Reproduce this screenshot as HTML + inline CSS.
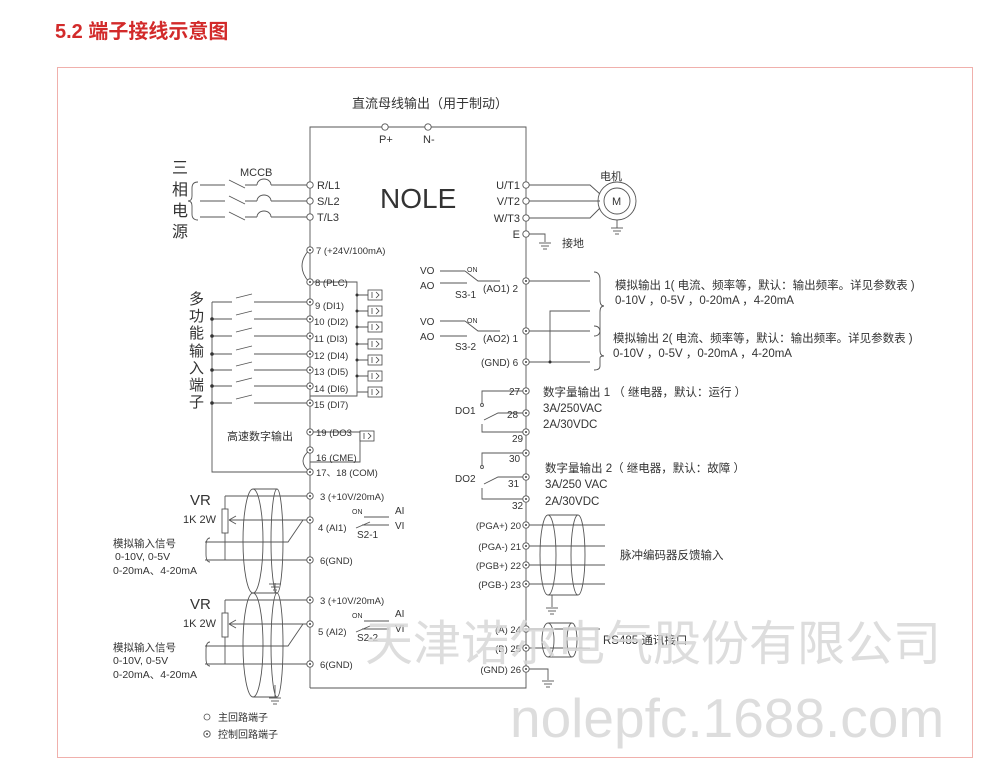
<!DOCTYPE html>
<html><head><meta charset="utf-8"><style>
html,body{margin:0;padding:0;background:#fff;}
svg{display:block;}
text{font-family:"Liberation Sans","Noto Sans CJK SC",sans-serif;fill:#333;}
</style></head><body>
<svg width="1000" height="782" viewBox="0 0 1000 782" xmlns="http://www.w3.org/2000/svg">
<defs>
<g id="ct"><circle r="3.2" fill="#fff" stroke="#555" stroke-width="0.9"/><circle r="1" fill="#444"/></g>
<g id="mt"><circle r="3.2" fill="#fff" stroke="#555" stroke-width="0.9"/></g>
<g id="oc"><rect x="0" y="-5" width="14" height="10" fill="#fff" stroke="#444" stroke-width="0.8"/><line x1="4" y1="-3" x2="4" y2="3" stroke="#444" stroke-width="0.8"/><path d="M8 -3 L11 0 L8 3" fill="none" stroke="#444" stroke-width="0.8"/></g>
<g id="gnd" stroke="#555" stroke-width="0.9"><line x1="-6" y1="0" x2="6" y2="0"/><line x1="-4" y1="3" x2="4" y2="3"/><line x1="-2" y1="6" x2="2" y2="6"/></g>
</defs>
<text x="55" y="38" font-size="20" font-weight="bold" style="fill:#d22a2a">5.2 端子接线示意图</text>
<rect x="57.5" y="67.5" width="915" height="690" fill="none" stroke="#f0b0ac" stroke-width="1"/>

<g stroke="#555" stroke-width="0.9" fill="none">
<polyline points="310,688 310,127 526,127 526,688 310,688"/>
<path d="M200 185H225 M229 180 L245 188 M245 185H257 M257 185 A7 6 0 0 1 271 185 M271 185H310"/>
<path d="M200 201H225 M229 196 L245 204 M245 201H257 M257 201 A7 6 0 0 1 271 201 M271 201H310"/>
<path d="M200 217H225 M229 212 L245 220 M245 217H257 M257 217 A7 6 0 0 1 271 217 M271 217H310"/>
<path d="M198 182 Q192 182 192 188 V196 Q192 201 188 201 Q192 201 192 206 V214 Q192 220 198 220"/>
<path d="M309 250 Q295 266 309 282"/>
<path d="M212 302V472H310"/>
<path d="M212 302H232 M236 298 L252 294 M254 302H310"/>
<path d="M212 319H232 M236 315 L252 311 M254 319H310"/>
<path d="M212 336H232 M236 332 L252 328 M254 336H310"/>
<path d="M212 354H232 M236 350 L252 346 M254 354H310"/>
<path d="M212 370H232 M236 366 L252 362 M254 370H310"/>
<path d="M212 386H232 M236 382 L252 378 M254 386H310"/>
<path d="M212 403H232 M236 399 L252 395 M254 403H310"/>
<path d="M310 282H357V396H310"/>
<path d="M357 295H368 M357 311H368 M357 327H368 M357 344H368 M357 360H368 M357 376H368 M357 392H368"/>
<path d="M310 432H360V462H310 M310 432"/>
<path d="M310 450 Q296 461 310 472"/>
<path d="M225 496H310 M225 496V509 M225 533V560 M229 520H310 M205 542H288 L303 520 M205 560H310"/>
<path d="M229 520 l7 -4 M229 520 l7 4"/>
<ellipse cx="253" cy="541" rx="10" ry="52"/><path d="M253 489H277 M253 593H277"/><ellipse cx="277" cy="541" rx="6" ry="52"/>
<path d="M275 593V583"/>
<path d="M370 522 L356 528 M364 517H389 M362 525H389 M210 538 Q206 538 206 546 V554 Q206 562 210 562"/>
<path d="M225 600H310 M225 600V613 M225 637V664 M229 624H310 M205 646H288 L303 624 M205 664H310"/>
<path d="M229 624 l7 -4 M229 624 l7 4"/>
<ellipse cx="253" cy="645" rx="10" ry="52"/><path d="M253 593H277 M253 697H277"/><ellipse cx="277" cy="645" rx="6" ry="52"/>
<path d="M275 697V685"/>
<path d="M370 626 L356 632 M364 621H389 M362 629H389 M210 642 Q206 642 206 650 V658 Q206 666 210 666"/>
<path d="M526 185H590 L600 194 M526 201H600 M526 218H590 L600 208 M526 234H545V242"/>
<circle cx="617" cy="201" r="19"/><circle cx="617" cy="201" r="13"/>
<path d="M617 220V228"/>
<path d="M440 271H465 M440 283H467 M465 271 L478 281 L500 281 M440 321H465 M440 336H467 M465 321 L478 331 L500 331"/>
<path d="M526 281H590 M526 331H590 M526 362H590 M550 362V311H590"/>
<path d="M594 272 Q600 272 600 280 V300 Q600 306 604 306 Q600 306 600 312 V330 Q600 336 594 336"/>
<path d="M594 326 Q600 326 600 332 V350 Q600 356 604 356 Q600 356 600 358 V366 Q600 370 594 370"/>
<path d="M526 391H482V403 M526 413H498 L484 420 M482 424V432H526 M526 413 H506"/>
<circle cx="482" cy="405" r="1.5"/>
<path d="M526 453H482V465 M526 477H498 L484 484 M482 488V499H526"/>
<circle cx="482" cy="467" r="1.5"/>
<path d="M526 525H605 M526 546H605 M526 565H605 M526 584H605"/>
<ellipse cx="548" cy="555" rx="8" ry="40"/><path d="M548 515H578 M548 595H578"/><ellipse cx="578" cy="555" rx="7" ry="40"/>
<path d="M552 595V607"/>
<path d="M526 629H600 M526 648H590 M526 669H548V680"/>
<ellipse cx="548" cy="640" rx="6" ry="17"/><path d="M548 623H572 M548 657H572"/><ellipse cx="572" cy="640" rx="5" ry="17"/>
</g>
<g fill="#333">
<circle cx="212" cy="319" r="1.8"/><circle cx="212" cy="336" r="1.8"/><circle cx="212" cy="354" r="1.8"/><circle cx="212" cy="370" r="1.8"/><circle cx="212" cy="386" r="1.8"/><circle cx="212" cy="403" r="1.8"/>
<circle cx="357" cy="295" r="1.5"/><circle cx="357" cy="311" r="1.5"/><circle cx="357" cy="327" r="1.5"/><circle cx="357" cy="344" r="1.5"/><circle cx="357" cy="360" r="1.5"/><circle cx="357" cy="376" r="1.5"/>
<circle cx="550" cy="362" r="1.5"/>
</g>
<rect x="222" y="509" width="6" height="24" fill="#fff" stroke="#555" stroke-width="0.9"/>
<rect x="222" y="613" width="6" height="24" fill="#fff" stroke="#555" stroke-width="0.9"/>
<use href="#gnd" x="275" y="584"/><use href="#gnd" x="275" y="698"/>
<use href="#gnd" x="545" y="243"/><use href="#gnd" x="617" y="228"/>
<use href="#gnd" x="552" y="608"/><use href="#gnd" x="548" y="681"/>
<use href="#oc" x="368" y="295"/><use href="#oc" x="368" y="311"/><use href="#oc" x="368" y="327"/><use href="#oc" x="368" y="344"/><use href="#oc" x="368" y="360"/><use href="#oc" x="368" y="376"/><use href="#oc" x="368" y="392"/>
<use href="#oc" x="360" y="436"/>
<use href="#mt" x="385" y="127"/><use href="#mt" x="428" y="127"/>
<use href="#mt" x="310" y="185"/><use href="#mt" x="310" y="201"/><use href="#mt" x="310" y="217"/>
<use href="#mt" x="526" y="185"/><use href="#mt" x="526" y="201"/><use href="#mt" x="526" y="218"/><use href="#mt" x="526" y="234"/>
<use href="#ct" x="310" y="250"/><use href="#ct" x="310" y="282"/><use href="#ct" x="310" y="302"/><use href="#ct" x="310" y="319"/><use href="#ct" x="310" y="336"/><use href="#ct" x="310" y="354"/><use href="#ct" x="310" y="370"/><use href="#ct" x="310" y="386"/><use href="#ct" x="310" y="403"/>
<use href="#ct" x="310" y="432"/><use href="#ct" x="310" y="450"/><use href="#ct" x="310" y="472"/>
<use href="#ct" x="310" y="496"/><use href="#ct" x="310" y="520"/><use href="#ct" x="310" y="560"/><use href="#ct" x="310" y="600"/><use href="#ct" x="310" y="624"/><use href="#ct" x="310" y="664"/>
<use href="#ct" x="526" y="281"/><use href="#ct" x="526" y="331"/><use href="#ct" x="526" y="362"/>
<use href="#ct" x="526" y="391"/><use href="#ct" x="526" y="413"/><use href="#ct" x="526" y="432"/><use href="#ct" x="526" y="453"/><use href="#ct" x="526" y="477"/><use href="#ct" x="526" y="499"/>
<use href="#ct" x="526" y="525"/><use href="#ct" x="526" y="546"/><use href="#ct" x="526" y="565"/><use href="#ct" x="526" y="584"/>
<use href="#ct" x="526" y="629"/><use href="#ct" x="526" y="648"/><use href="#ct" x="526" y="669"/>

<text x="352" y="108" font-size="13">直流母线输出（用于制动）</text>
<text x="379" y="143" font-size="11">P+</text><text x="423" y="143" font-size="11">N-</text>
<text x="380" y="208" font-size="28">NOLE</text>
<g font-size="16"><text x="172" y="173">三</text><text x="172" y="195">相</text><text x="172" y="216">电</text><text x="172" y="237">源</text></g>
<text x="240" y="176" font-size="11">MCCB</text>
<g font-size="11"><text x="317" y="189">R/L1</text><text x="317" y="205">S/L2</text><text x="317" y="221">T/L3</text></g>
<g font-size="11" text-anchor="end"><text x="520" y="189">U/T1</text><text x="520" y="205">V/T2</text><text x="520" y="222">W/T3</text><text x="520" y="238">E</text></g>
<text x="600" y="180" font-size="11">电机</text><text x="612" y="205" font-size="11">M</text>
<text x="562" y="247" font-size="11">接地</text>
<g font-size="9.5">
<text x="316" y="254">7 (+24V/100mA)</text><text x="315" y="285" dy="1">8 (PLC)</text>
<text x="315" y="309">9 (DI1)</text><text x="314" y="325">10 (DI2)</text><text x="314" y="342">11 (DI3)</text><text x="314" y="359">12 (DI4)</text><text x="314" y="375">13 (DI5)</text><text x="314" y="392">14 (DI6)</text><text x="314" y="408">15 (DI7)</text>
<text x="316" y="436">19 (DO3</text><text x="316" y="461">16 (CME)</text><text x="316" y="476">17、18 (COM)</text>
<text x="320" y="500">3 (+10V/20mA)</text><text x="318" y="531">4 (AI1)</text><text x="320" y="564">6(GND)</text>
<text x="320" y="604">3 (+10V/20mA)</text><text x="318" y="635">5 (AI2)</text><text x="320" y="668">6(GND)</text>
</g>
<g font-size="15"><text x="189" y="304">多</text><text x="189" y="321">功</text><text x="189" y="338">能</text><text x="189" y="356">输</text><text x="189" y="373">入</text><text x="189" y="390">端</text><text x="189" y="407">子</text></g>
<text x="227" y="440" font-size="11">高速数字输出</text>
<text x="190" y="505" font-size="15">VR</text><text x="183" y="523" font-size="11">1K 2W</text>
<text x="190" y="609" font-size="15">VR</text><text x="183" y="627" font-size="11">1K 2W</text>
<g font-size="10.5"><text x="113" y="547">模拟输入信号</text><text x="115" y="560">0-10V, 0-5V</text><text x="113" y="574">0-20mA、4-20mA</text>
<text x="113" y="651">模拟输入信号</text><text x="113" y="664">0-10V, 0-5V</text><text x="113" y="678">0-20mA、4-20mA</text></g>
<g font-size="7"><text x="352" y="514">ON</text><text x="352" y="618">ON</text><text x="467" y="272">ON</text><text x="467" y="323">ON</text></g>
<g font-size="10"><text x="395" y="514">AI</text><text x="395" y="529">VI</text><text x="357" y="538">S2-1</text>
<text x="395" y="617">AI</text><text x="395" y="632">VI</text><text x="357" y="641">S2-2</text>
<text x="420" y="274">VO</text><text x="420" y="289">AO</text><text x="455" y="298">S3-1</text><text x="483" y="292">(AO1) 2</text>
<text x="420" y="325">VO</text><text x="420" y="340">AO</text><text x="455" y="350">S3-2</text><text x="483" y="342">(AO2) 1</text>
<text x="481" y="366">(GND) 6</text>
<text x="509" y="395">27</text><text x="507" y="418">28</text><text x="512" y="442">29</text><text x="455" y="414">DO1</text>
<text x="509" y="462">30</text><text x="508" y="487">31</text><text x="512" y="509">32</text><text x="455" y="482">DO2</text>
</g>
<g font-size="9.5" text-anchor="end"><text x="521" y="529">(PGA+) 20</text><text x="521" y="550">(PGA-) 21</text><text x="521" y="569">(PGB+) 22</text><text x="521" y="588">(PGB-) 23</text>
<text x="521" y="633">(A) 24</text><text x="521" y="652">(B) 25</text><text x="521" y="673">(GND) 26</text></g>
<g font-size="11.5"><text x="615" y="289">模拟输出 1( 电流、频率等，默认：输出频率。详见参数表 )</text><text x="615" y="304">0-10V ，0-5V ，0-20mA ，4-20mA</text>
<text x="613" y="342">模拟输出 2( 电流、频率等，默认：输出频率。详见参数表 )</text><text x="613" y="357">0-10V ，0-5V ，0-20mA ，4-20mA</text>
<text x="543" y="396">数字量输出 1 （ 继电器，默认：运行 ）</text><text x="543" y="412">3A/250VAC</text><text x="543" y="428">2A/30VDC</text>
<text x="545" y="472">数字量输出 2（ 继电器，默认：故障 ）</text><text x="545" y="488">3A/250 VAC</text><text x="545" y="505">2A/30VDC</text>
<text x="620" y="559">脉冲编码器反馈输入</text><text x="603" y="644">RS485 通讯接口</text></g>
<g font-size="10"><circle cx="207" cy="717" r="3" fill="none" stroke="#555" stroke-width="0.8"/><text x="218" y="721">主回路端子</text>
<use href="#ct" x="207" y="734"/><text x="218" y="738">控制回路端子</text></g>
<text x="365" y="660" font-size="48" style="fill:#d8d8d8" opacity="0.85">天津诺尔电气股份有限公司</text>
<text x="510" y="737" font-size="55" style="fill:#d8d8d8" opacity="0.85">nolepfc.1688.com</text>
</svg>
</body></html>
